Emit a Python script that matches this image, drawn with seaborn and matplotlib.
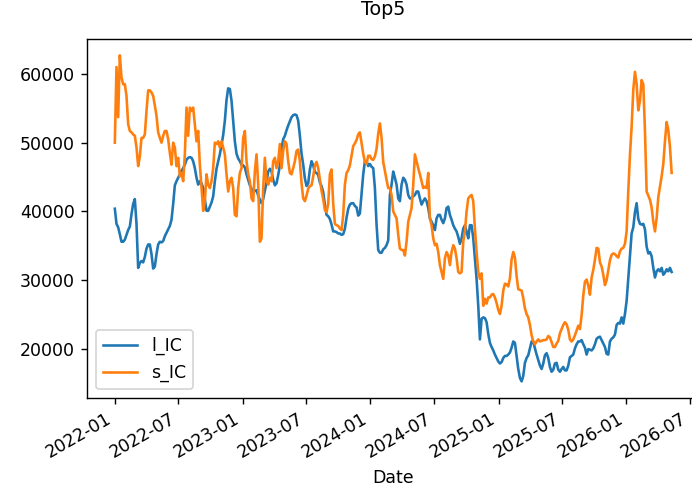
#import packages
import numpy as np
import pandas as pd
import seaborn as sns
import matplotlib
matplotlib.use("Agg")
import matplotlib.pyplot as plt
import matplotlib.dates as mdates

#values, evenly spaced in time between first and last date
first_date = "2022-01-01"
last_date = "2026-05-10"
series_names = ["l_IC", "s_IC"]
line_colors = ["#1f77b4", "#ff7f0e"]

l_ic = [
    40400, 38200, 37700, 36700, 35600, 35600, 35900, 36600, 37300, 37800,
    39600, 41100, 41800, 38200, 31800, 32500, 32800, 32600, 33400, 34600,
    35200, 35200, 33800, 31700, 32000, 33800, 35200, 35600, 35500, 35700,
    36400, 36900, 37400, 37900, 38800, 41100, 43800, 44400, 44900, 45400,
    45900, 46300, 46800, 47500, 47800, 47900, 47800, 47300, 46300, 44900,
    43900, 44400, 44100, 43400,
    41700, 40100, 40100, 40700, 41300, 42200, 44400, 46200, 47300, 48300,
    49700, 51100, 53200, 56200, 57900, 57800, 56100, 53100, 50200, 48400,
    47700, 47300, 46800, 46700, 46400, 45400, 44600, 43800, 43300, 42700,
    43000, 43100, 42300, 41700, 41200, 41800, 43000, 44300, 45800, 46200,
    45800, 44600, 43800, 44100, 45300, 46700, 49100, 50500, 51000, 51800,
    52500, 53100, 53700, 54000, 54100, 54000,
    53200, 51000, 48400, 46800, 44800, 43700, 44100, 46100, 47300, 46700,
    45700, 45600, 45300, 44200, 43700, 42800, 41000, 39500, 39300, 38900,
    38100, 37100, 37100, 37000, 36800, 36800, 36600, 36700, 37500, 39100,
    40400, 41000, 41200, 41200, 40800, 40600, 39400, 39700, 42600, 45400,
    47300, 47300, 46600, 46900, 46500, 46300, 43400, 38100, 34400, 34000,
    34000, 34500, 34700, 35100, 35800,
    42400, 43900, 45800, 44900, 43900, 41900, 41500, 43900, 44900, 44600,
    43900, 42400, 41900, 41900, 42200, 42400, 42900, 42900, 41900, 41000,
    41500, 41900, 41500, 40500, 39000, 38500, 38000, 37300, 39000, 39500,
    39500, 38800, 38300, 39000, 40500, 40700, 39500, 38800, 38000, 37500,
    37100, 36300, 35300, 36100, 37500, 38000, 37100, 36100, 38000, 38000,
    36100, 33200, 30200, 26300, 21400, 24400, 24600,
    24500, 23900, 22200, 20900, 20300, 19800, 19200, 18700, 18200, 17900,
    18100, 18700, 19000, 19000, 19200, 19500, 20200, 21100, 20900, 19000,
    17100, 15800, 15300, 16100, 18000, 18700, 19100, 20100, 21100, 21100,
    20100, 19200, 18400, 17600, 17100, 17900, 19100, 19400, 18700, 17400,
    16700, 17000, 17900, 18000, 17000, 16700, 17100, 17400, 16900, 16900,
    17600, 18800, 19000, 19200, 20100, 20700, 21100,
    21100, 21300, 20700, 20200, 19200, 20000, 19900, 19800, 20100, 20700,
    21500, 21700, 21800, 21300, 20800, 20300, 19300, 19200, 21100, 21500,
    21700, 22100, 23500, 23800, 23700, 24600, 23700, 25100, 27000, 30300,
    33400, 36800, 37700, 39900, 41200, 38900, 38200, 38100, 38200, 37400,
    34900, 33900, 34100, 33500, 31800, 30400, 31300, 31600, 31300, 31800,
    30800, 31100, 31600, 31300, 31800, 31200,
]

s_ic = [
    50000, 61000, 53700, 62700, 59500, 58500, 58500, 56800, 52700, 51700,
    51500, 51200, 51000, 49300, 46600, 48000, 50700, 50700, 51200, 54600,
    57600, 57600, 57300, 56800, 55400, 53900, 51500, 50700, 50000, 51000,
    51700, 51700, 50500, 48500, 46800, 50000, 49300, 46600, 47800, 45100,
    45600, 44400, 48300, 55100, 51000, 55100, 54600, 55100, 52700, 50200,
    51700, 46800, 43400, 40100,
    41500, 45400, 43900, 43400, 44400, 46300, 50000, 49800, 50200, 49300,
    50200, 49300, 48300, 45400, 42900, 44400, 44900, 43400, 39500, 39300,
    43400, 45600, 46300, 50700, 51700, 47300, 45400, 44400, 41900, 41500,
    45800, 48300, 43900, 35600, 36100, 43400, 47800, 44400, 43900, 44900,
    44400, 47300, 47800, 46300, 47300, 49800, 46300, 48800, 50200, 49800,
    47300, 45600, 45400, 46300, 47300, 48800,
    49000, 47300, 44100, 41900, 41500, 42300, 43300, 43700, 43800, 45100,
    46700, 47200, 46300, 44600, 43000, 41800, 40200, 39900, 41100, 45400,
    46100, 41100, 38200, 38000, 37900, 37500, 37300, 39500, 43900, 45600,
    46000, 46700, 48100, 49500, 49900, 50400, 51200, 51500, 49900, 48400,
    47200, 46900, 48100, 48100, 47600, 47500, 48000, 49100, 51300, 52800,
    50700, 47200, 45900, 44600, 43400,
    43400, 42400, 40000, 39500, 39000, 36600, 34600, 34400, 34400, 33600,
    35600, 38500, 39500, 40500, 43900, 48300, 47300, 46300, 45400, 44400,
    43400, 43600, 43400, 45600, 39000, 38000, 36100, 35100, 35300, 34100,
    32200, 31200, 30200, 33200, 34100, 33600, 32200, 34100, 35100, 34600,
    33200, 31200, 31000, 31200, 35600, 37100, 40000, 41900, 42200, 42400,
    41500, 37500, 34100, 31200, 30200, 31000, 26300,
    27300, 26600, 27500, 27500, 27900, 28000, 27500, 26700, 25700, 25100,
    26300, 28500, 29500, 29400, 29100, 30300, 33000, 34100, 33300, 30600,
    28700, 28600, 28500, 27400, 25900, 25100, 24600, 23500, 22000, 21100,
    20700, 21100, 21400, 21100, 21200, 21300, 21300, 21400, 21900, 21700,
    21000, 20300, 20300, 20800, 21200, 22300, 22900, 23500, 23900, 23600,
    22800, 21400, 21100, 21400, 22000, 22700, 23400,
    22900, 24900, 27800, 29800, 30100, 29200, 27900, 30400, 31500, 33000,
    34700, 34600, 32600, 32000, 30800, 29300, 30000, 31500, 32900, 33700,
    33900, 33800, 33500, 33300, 34200, 34600, 34700, 35300, 37100, 43000,
    48200, 52300, 57700, 60300, 58500, 54700, 56100, 59100, 58500, 51700,
    42900, 42300, 41700, 40600, 38500, 37100, 39000, 42100, 43600, 45100,
    46900, 50200, 53000, 51800, 49400, 45600,
]

#build a long table for seaborn
dates = pd.date_range(first_date, last_date, periods=len(l_ic))
df = pd.DataFrame({"Date": dates, series_names[0]: l_ic, series_names[1]: s_ic})
long_df = df.melt(id_vars="Date", var_name="series", value_name="value")

fig = plt.figure(figsize=(692 / 125, 490 / 125), dpi=125)
#axes runs a bit past the right edge, like the cropped original
ax = fig.add_axes([0.1257, 0.1884, 0.8851, 0.732])

sns.lineplot(data=long_df, x="Date", y="value", hue="series",
             palette=line_colors, linewidth=1.5, ax=ax)

ax.xaxis.set_major_locator(mdates.MonthLocator(bymonth=[1, 7]))
ax.xaxis.set_major_formatter(mdates.DateFormatter("%Y-%m"))
for label in ax.get_xticklabels():
    label.set_rotation(30)
    label.set_horizontalalignment("right")

#title sits over the middle of the uncropped figure
ax.set_title("Top5", fontsize=11, x=0.483, pad=14)
ax.set_xlabel("Date")
ax.set_ylabel("")
sns.move_legend(ax, "lower left", title=None)

fig.savefig("out.png", dpi=125)
